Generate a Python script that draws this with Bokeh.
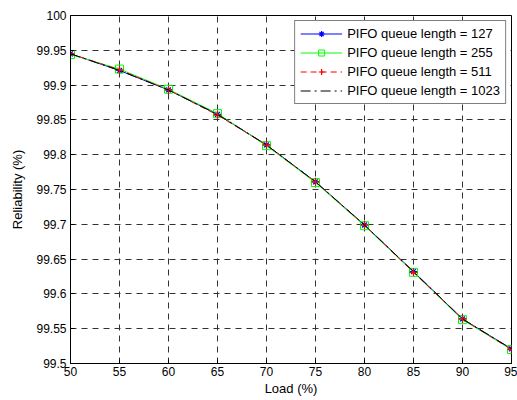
from bokeh.plotting import figure
from bokeh.models import FixedTicker, Legend, LegendItem
from bokeh.embed import file_html
from bokeh.resources import INLINE

load = [50, 55, 60, 65, 70, 75, 80, 85, 90, 95]
rel_127 = [99.945, 99.921, 99.893, 99.858, 99.814, 99.761, 99.699, 99.632, 99.564, 99.521]
rel_255 = [99.944, 99.923, 99.894, 99.859, 99.813, 99.760, 99.698, 99.631, 99.563, 99.520]
rel_511 = [99.945, 99.922, 99.893, 99.857, 99.814, 99.761, 99.699, 99.631, 99.564, 99.520]
rel_1023 = [99.945, 99.921, 99.893, 99.858, 99.814, 99.761, 99.699, 99.632, 99.564, 99.521]

x_ticks = [50, 55, 60, 65, 70, 75, 80, 85, 90, 95]
y_ticks = [99.5, 99.55, 99.6, 99.65, 99.7, 99.75, 99.8, 99.85, 99.9, 99.95, 100]
y_tick_labels = ["99.5", "99.55", "99.6", "99.65", "99.7", "99.75", "99.8", "99.85", "99.9", "99.95", "100"]
labels = ["PIFO queue length = 127", "PIFO queue length = 255",
          "PIFO queue length = 511", "PIFO queue length = 1023"]

FONT = "Liberation Sans"

p = figure(width=517, height=400, x_range=(50, 95), y_range=(99.5, 100),
           output_backend="svg", toolbar_location=None,
           min_border_left=70, min_border_right=6, min_border_top=15, min_border_bottom=37)
p.background_fill_color = "white"
p.border_fill_color = "white"
p.outline_line_color = "black"
p.outline_line_width = 1

for ax in (p.xaxis, p.yaxis):
    ax.major_tick_in = 4
    ax.major_tick_out = 0
    ax.minor_tick_in = 0
    ax.minor_tick_out = 0
    ax.axis_line_color = "black"
    ax.major_tick_line_color = "black"
    ax.major_label_text_font = FONT
    ax.major_label_text_font_size = "12px"
    ax.major_label_text_color = "black"
    ax.axis_label_text_font = FONT
    ax.axis_label_text_font_size = "13px"
    ax.axis_label_text_font_style = "normal"
    ax.axis_label_text_color = "black"

p.xaxis.ticker = FixedTicker(ticks=x_ticks)
p.yaxis.ticker = FixedTicker(ticks=y_ticks)
p.yaxis.major_label_overrides = {t: l for t, l in zip(y_ticks, y_tick_labels)}
p.xaxis.axis_label = "Load (%)"
p.yaxis.axis_label = "Reliability (%)"
p.xaxis.major_label_standoff = 3
p.xaxis.axis_label_standoff = 2
p.yaxis.major_label_standoff = 4
p.yaxis.axis_label_standoff = 8

p.xgrid.ticker = FixedTicker(ticks=x_ticks)
p.ygrid.ticker = FixedTicker(ticks=y_ticks)
for g in (p.xgrid, p.ygrid):
    g.grid_line_color = "#333333"
    g.grid_line_dash = "6 5"
    g.grid_line_width = 1
    g.grid_line_alpha = 1

items = []
l1 = p.line(load, rel_127, line_color="blue", line_width=1)
m1 = p.scatter(load, rel_127, marker="asterisk", size=7, line_color="blue", line_width=1.2)
items.append(LegendItem(label=labels[0], renderers=[l1, m1]))

l2 = p.line(load, rel_255, line_color="#00ff00", line_width=1)
m2 = p.scatter(load, rel_255, marker="square", size=8, line_color="#00ff00",
               fill_color=None, line_width=1)
items.append(LegendItem(label=labels[1], renderers=[l2, m2]))

l3 = p.line(load, rel_511, line_color="red", line_width=1, line_dash="6 4")
m3 = p.scatter(load, rel_511, marker="cross", size=8, line_color="red", line_width=1.2)
items.append(LegendItem(label=labels[2], renderers=[l3, m3]))

l4 = p.line(load, rel_1023, line_color="black", line_width=1, line_dash="10 4 2 4")
items.append(LegendItem(label=labels[3], renderers=[l4]))

legend = Legend(items=items, location="top_right")
legend.label_text_font = FONT
legend.label_text_font_size = "13px"
legend.label_text_color = "black"
legend.border_line_color = "black"
legend.border_line_width = 1
legend.background_fill_color = "white"
legend.background_fill_alpha = 1
legend.glyph_width = 42
legend.glyph_height = 15
legend.label_height = 15
legend.spacing = 4
legend.padding = 5
legend.margin = 5
legend.label_standoff = 5
p.add_layout(legend)

open("out.html", "w").write(file_html(p, INLINE))
